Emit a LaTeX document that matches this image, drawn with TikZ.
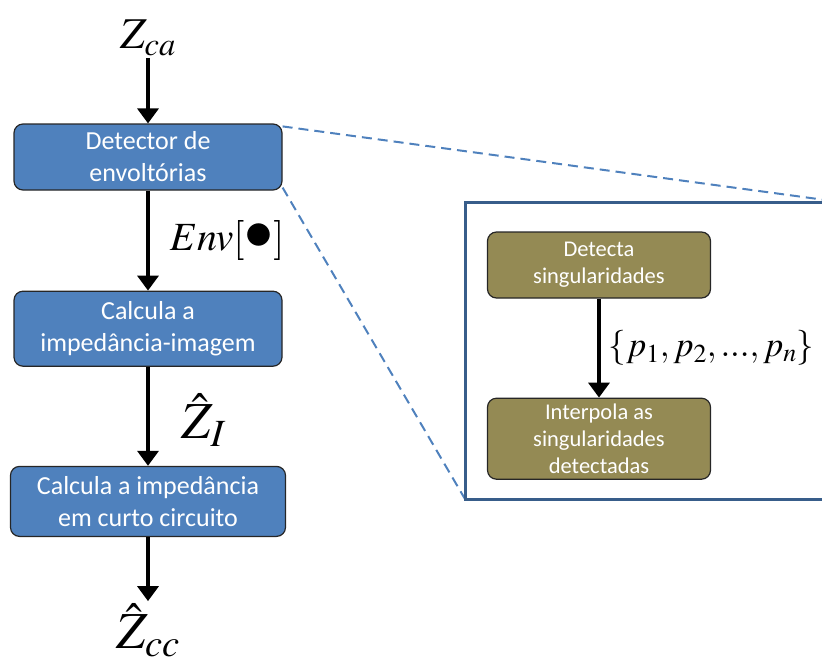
\documentclass[tikz,border=0pt]{standalone}
\usepackage{mathptmx}
\usepackage[no-math]{fontspec}
\setmainfont{Carlito}
\usetikzlibrary{arrows.meta,positioning}
\definecolor{boxblue}{RGB}{79,129,189}
\definecolor{boxolive}{RGB}{148,138,84}
\definecolor{zoomblue}{RGB}{56,93,138}
\newcommand{\bigdot}{\raisebox{0.03em}{\scalebox{1.45}{$\bullet$}}}

\begin{document}
\begin{tikzpicture}[
		x=1pt, y=-1pt,
		node distance=100pt,
		block/.style={draw=black!85, line width=1.2pt, rounded corners=9pt, fill=boxblue, text=white, align=center, font=\fontsize{26}{32}\selectfont, minimum width=268pt, minimum height=70pt},
		subblock/.style={block, fill=boxolive, font=\fontsize{22.5}{27}\selectfont, minimum width=223pt},
		flow/.style={line width=3.5pt, -{Triangle[length=15pt,width=21pt]}},
		zoomline/.style={draw=boxblue, line width=2pt, dash pattern=on 10pt off 6pt},
		signal/.style={inner sep=2pt, font=\fontsize{44}{44}\selectfont},
	]
		\useasboundingbox (0,0) rectangle (822,670);
		\clip (0,0) rectangle (822,670);

		% main chain
		\node (z ca) [signal] at (148,38) {$Z_{ca}$};
		\node (env det) [block, minimum height=66pt] at (148,157) {Detector de\\envoltórias};
		\node (img calc) [block, minimum height=75pt, below=100pt of env det] {Calcula a\\impedância-imagem};
		\node (cc calc) [block, minimum width=275pt, below=99pt of img calc] {Calcula a impedância\\em curto circuito};
		\node (z cc) [signal, font=\fontsize{52}{52}\selectfont] at (148,630) {$\hat{Z}_{cc}$};

		\draw[flow] (z ca) -- (env det);
		\draw[flow] (env det) -- node[signal, font=\fontsize{40}{40}\selectfont, right=18pt] {$Env[\bigdot]$} (img calc);
		\draw[flow] (img calc) -- node[signal, font=\fontsize{52}{52}\selectfont, right=30pt, yshift=-4pt] {$\hat{Z}_I$} (cc calc);
		\draw[flow] (cc calc) -- (z cc);

		% zoomed detail
		\coordinate (frame ne) at (840,202);
		\coordinate (frame nw) at (465,202);
		\coordinate (frame sw) at (465,499);
		\coordinate (frame se) at (840,499);

		\draw[zoomline] ([yshift=-3pt]env det.north east) -- (frame ne);
		\draw[zoomline] ([yshift=3pt]env det.south east) -- (frame sw);
		\draw[zoomblue, line width=3pt] (frame ne) -- (frame nw) -- (frame sw) -- (frame se);

		\node (sing det) [subblock, minimum height=66pt] at (599,265) {Detecta\\singularidades};
		\node (sing interp) [subblock, minimum height=81pt, below=99pt of sing det] {Interpola as\\singularidades\\detectadas};

		\draw[flow] (sing det) -- node[signal, font=\fontsize{35}{35}\selectfont, right=6pt] {$\{p_1,p_2,...,p_n\}$} (sing interp);
	\end{tikzpicture}
\end{document}
